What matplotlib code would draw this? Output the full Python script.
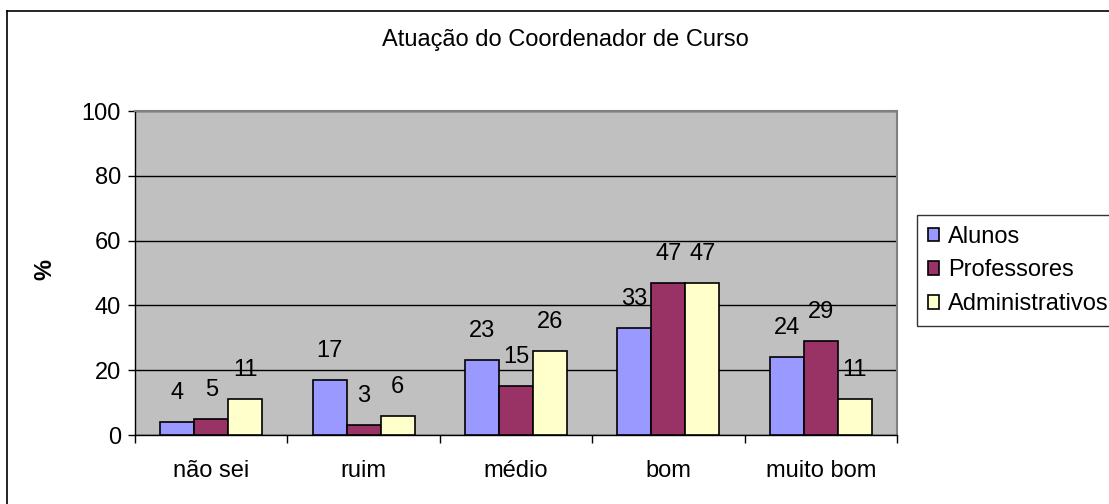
import matplotlib
matplotlib.use("Agg")
import matplotlib.pyplot as plt
import numpy as np
from matplotlib.lines import Line2D

plt.rcParams['font.family'] = ['Liberation Sans', 'DejaVu Sans']

# dados
categorias = ['não sei', 'ruim', 'médio', 'bom', 'muito bom']
series = ['Alunos', 'Professores', 'Administrativos']
alunos = [4, 17, 23, 33, 24]
professores = [5, 3, 15, 47, 29]
administrativos = [11, 6, 26, 47, 11]
cores = ['#9999FF', '#993366', '#FFFFCC']
yticks = [0, 20, 40, 60, 80, 100]

fs = 17

fig = plt.figure(figsize=(11.09, 5.04), dpi=100, facecolor='white')
ax = fig.add_axes([135/1109, 1-435/504, 762/1109, 324/504])
ax.set_facecolor('#C0C0C0')

x = np.arange(len(categorias))
w = 0.223
valores = [alunos, professores, administrativos]
for j, (nome, vals, cor) in enumerate(zip(series, valores, cores)):
    pos = x + (j - 1) * w
    bars = ax.bar(pos, vals, w, color=cor, edgecolor='black', linewidth=1.2,
                  label=nome, zorder=3)
    for b, v in zip(bars, vals):
        ax.annotate(str(v), (b.get_x() + b.get_width()/2, v), xytext=(0, 13),
                    textcoords='offset points', ha='center', va='bottom',
                    fontsize=fs, zorder=4)

ax.set_xlim(-0.5, 4.5)
ax.set_ylim(0, 100)
ax.set_yticks(yticks)
ax.yaxis.grid(True, color='black', linewidth=1.0, zorder=1)
ax.tick_params(axis='y', labelsize=fs, length=5, width=1, pad=5, direction='out')

# ticks nos limites das categorias, rótulos no centro
ax.set_xticks(np.arange(-0.5, 5, 1.0))
ax.set_xticklabels([])
ax.tick_params(axis='x', which='major', length=6, width=1, direction='out')
ax.set_xticks(x, minor=True)
ax.set_xticklabels(categorias, minor=True)
ax.tick_params(axis='x', which='minor', length=0, labelsize=fs, pad=18)

for s in ['top', 'right']:
    ax.spines[s].set_color('#808080')
    ax.spines[s].set_linewidth(1.5)
for s in ['left', 'bottom']:
    ax.spines[s].set_color('black')
    ax.spines[s].set_linewidth(1.0)

# rótulo do eixo y
fig.text(45/1109, 1-270/504, '%', rotation=90, ha='center', va='center',
         fontsize=fs, fontweight='bold')

fig.text(565/1109, 1-40/504, 'Atuação do Coordenador de Curso', ha='center',
         va='center', fontsize=fs)

leg = fig.legend(loc='upper left', bbox_to_anchor=(917/1109, 1-215/504),
                 fontsize=fs, frameon=True, fancybox=False, borderpad=0.45,
                 handlelength=0.5, handleheight=0.5, handletextpad=0.35,
                 labelspacing=0.5, borderaxespad=0)
leg.get_frame().set_edgecolor('black')
leg.get_frame().set_linewidth(1.0)

# moldura do gráfico
fig.add_artist(Line2D([7/1109, 7/1109], [0, 1-11/504], transform=fig.transFigure,
                      color='black', linewidth=1.2))
fig.add_artist(Line2D([7/1109, 1], [1-11/504, 1-11/504], transform=fig.transFigure,
                      color='black', linewidth=1.2))

fig.savefig('out.png', dpi=100)
